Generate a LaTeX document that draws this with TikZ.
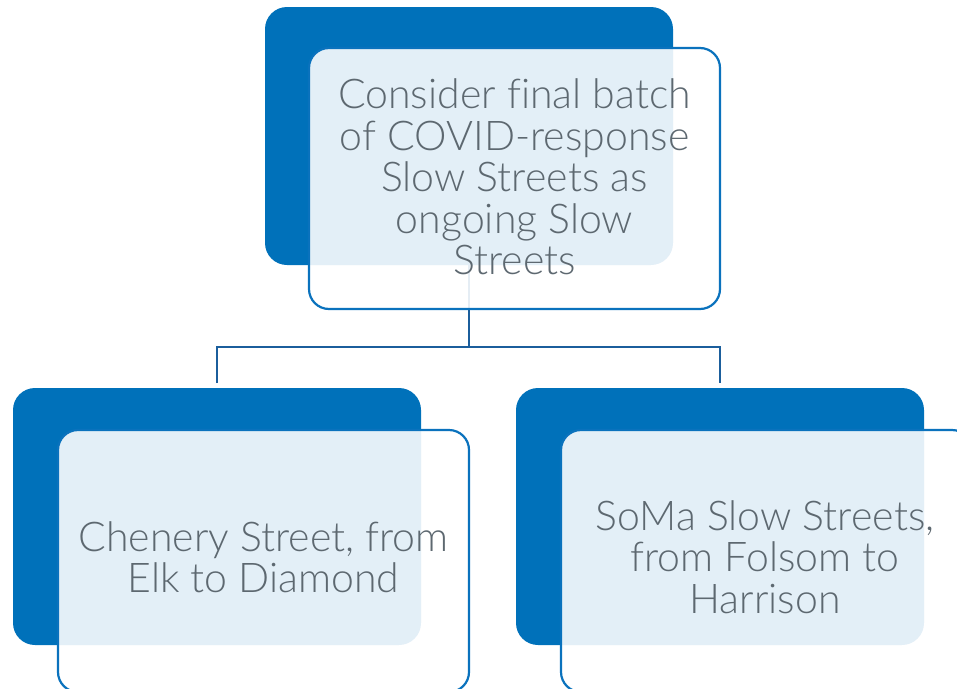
\documentclass[tikz,border=0pt]{standalone}
\usepackage{fontspec}
\setmainfont{Lato}[UprightFont=* Light, Ligatures=NoCommon]
\definecolor{darkblue}{HTML}{0071BA}
\definecolor{edgeblue}{HTML}{0A72BD}
\definecolor{linkblue}{HTML}{1B5E9C}
\definecolor{txtgray}{HTML}{5D6870}
\tikzset{
  backbox/.style={fill=darkblue, rounded corners=22pt},
  frontbox/.style={draw=edgeblue, line width=2.2pt, fill=white, fill opacity=0.89, rounded corners=20pt},
  label/.style={text=txtgray, align=center, font=\fontsize{41}{41.5}\selectfont, text opacity=1},
  link/.style={draw=linkblue, line width=2pt}
}
\begin{document}
\begin{tikzpicture}[x=1pt,y=-1pt]
\useasboundingbox (0,0) rectangle (957,688);
% back boxes
\path[backbox] (265,7) rectangle (673,265);
\path[backbox] (13,388) rectangle (421,645);
\path[backbox] (516,388) rectangle (924,645);
\coordinate (topb) at (469,265);
\coordinate (mid) at (469,347);
\coordinate (lt) at (217,383);
\coordinate (rt) at (720,383);
\coordinate (ml) at (217,347);
\coordinate (mr) at (720,347);
\draw[link] (topb) -- (mid);
\draw[link] (lt) -- (ml) -- (mr) -- (rt);
% front boxes
\path[frontbox] (309,48) rectangle (720,309);
\path[frontbox] (58,430) rectangle (469,692);
\path[frontbox] (561,430) rectangle (972,692);
\node[label] (top) at (514.5,177) {Consider final batch\\of COVID-response\\Slow Streets as\\ongoing Slow\\Streets};
\node[label] (left) at (263.5,557) {Chenery Street, from\\Elk to Diamond};
\node[label] (right) at (765,557) {SoMa Slow Streets,\\from Folsom to\\Harrison};
\end{tikzpicture}
\end{document}
